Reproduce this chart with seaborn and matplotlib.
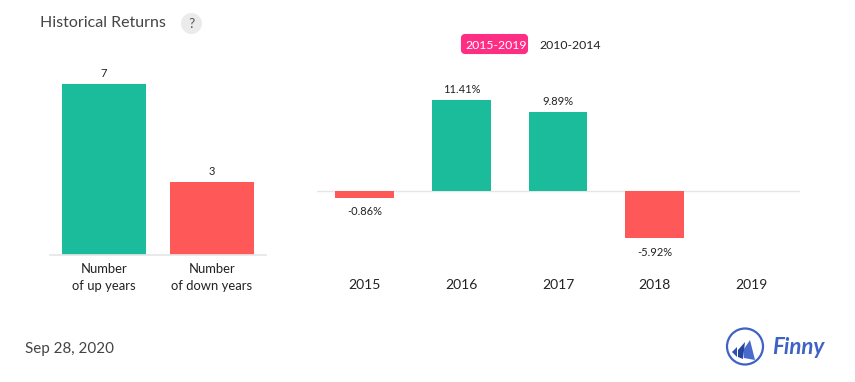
import matplotlib
matplotlib.use("Agg")
import matplotlib.pyplot as plt
from matplotlib.patches import Circle, FancyBboxPatch, Polygon
import seaborn as sns

count_labels = ["Number\nof up years", "Number\nof down years"]
count_values = [7, 3]
years = ["2015", "2016", "2017", "2018", "2019"]
returns = [-0.86, 11.41, 9.89, -5.92, None]
return_labels = ["-0.86%", "11.41%", "9.89%", "-5.92%", ""]
GREEN, RED = "#1ABC9C", "#FF5858"
W, H = 855, 382

sns.set_theme(style="white")
plt.rcParams["font.family"] = ["Lato", "DejaVu Sans"]
fig = plt.figure(figsize=(W / 100, H / 100), dpi=100, facecolor="white")

def px_axes(l, t, r, b):
    return fig.add_axes([l / W, 1 - b / H, (r - l) / W, (b - t) / H])

# left chart
ax1 = px_axes(50, 60, 266, 255)
sns.barplot(x=count_labels, y=count_values, hue=count_labels, palette=[GREEN, RED],
            legend=False, width=0.78, saturation=1, linewidth=0, ax=ax1)
ax1.set_xlim(-0.5, 1.5)
ax1.set_ylim(0, 195 / 24.5)
for i, v in enumerate(count_values):
    ax1.annotate(str(v), (i, v), xytext=(0, 3.5), textcoords="offset points", ha="center",
                 va="bottom", fontsize=8, color="#222222")
# right chart
ax2 = px_axes(316.5, 60, 799.5, 260)
sns.barplot(x=years, y=[0 if v is None else v for v in returns], hue=years,
            palette=[RED if (v or 0) < 0 else GREEN for v in returns],
            legend=False, width=0.61, saturation=1, linewidth=0, ax=ax2)
ax2.set_xlim(-0.5, 4.5)
ax2.set_ylim(-69 / 7.97, 131 / 7.97)
ax2.axhline(0, color="#e6e6e6", lw=1, zorder=0)
for i, (v, s) in enumerate(zip(returns, return_labels)):
    if v is None:
        continue
    off = 3.5 if v > 0 else -6
    ax2.annotate(s, (i, v), xytext=(0, off), textcoords="offset points", ha="center",
                 va="bottom" if v > 0 else "top", fontsize=8, color="#222222")

for ax in (ax1, ax2):
    sns.despine(ax=ax, left=True, bottom=True, top=True, right=True)
    ax.set_yticks([])
    ax.set_xlabel("")
    ax.set_ylabel("")
    ax.patch.set_alpha(0)
ax1.spines["bottom"].set_visible(True)
ax1.spines["bottom"].set_color("#e6e6e6")
ax1.tick_params(axis="x", length=0, pad=6, labelsize=9.4, labelcolor="#222222")
for t in ax1.get_xticklabels():
    t.set_linespacing(1.45)
ax2.tick_params(axis="x", length=0, pad=13.5, labelsize=10, labelcolor="#222222")

# page furniture in pixel coordinates
o = fig.add_axes([0, 0, 1, 1], zorder=5)
o.set_xlim(0, W)
o.set_ylim(H, 0)
o.axis("off")
o.text(40, 23, "Historical Returns", fontsize=11.5, color="#444444", va="center", ha="left")
o.add_patch(Circle((191.5, 23.5), 10.5, fc="#ebebeb", ec="none"))
o.text(191.5, 23.5, "?", fontsize=10, color="#555555", va="center", ha="center")
o.add_patch(FancyBboxPatch((462, 35), 65, 18, boxstyle="round,pad=0,rounding_size=3",
                           fc="#FF2E85", ec="#FF2E85", lw=1.5))
o.text(496, 45.5, "2015-2019", fontsize=8.8, color="white", va="center", ha="center")
o.text(570, 45.5, "2010-2014", fontsize=8.8, color="#222222", va="center", ha="center")
o.text(25, 349, "Sep 28, 2020", fontsize=10.9, color="#444444", va="center", ha="left")
# logo
o.add_patch(Circle((745, 346.5), 18, fc="none", ec="#3F62C4", lw=1.6))
o.add_patch(Polygon([(750, 340), (744, 349), (744, 358), (755, 360)], fc="#4A6BCB", ec="none"))
o.add_patch(Polygon([(745, 342), (738, 350), (738, 357), (743, 359)], fc="#24459F", ec="none"))
o.add_patch(Polygon([(737, 347), (732, 352), (737, 357)], fc="#2E50AE", ec="none"))
o.text(772, 347, "Finny", fontsize=16, color="#3F62C4", fontweight="bold", style="italic",
       va="center", ha="left")

fig.savefig("out.png", dpi=100, facecolor="white")
